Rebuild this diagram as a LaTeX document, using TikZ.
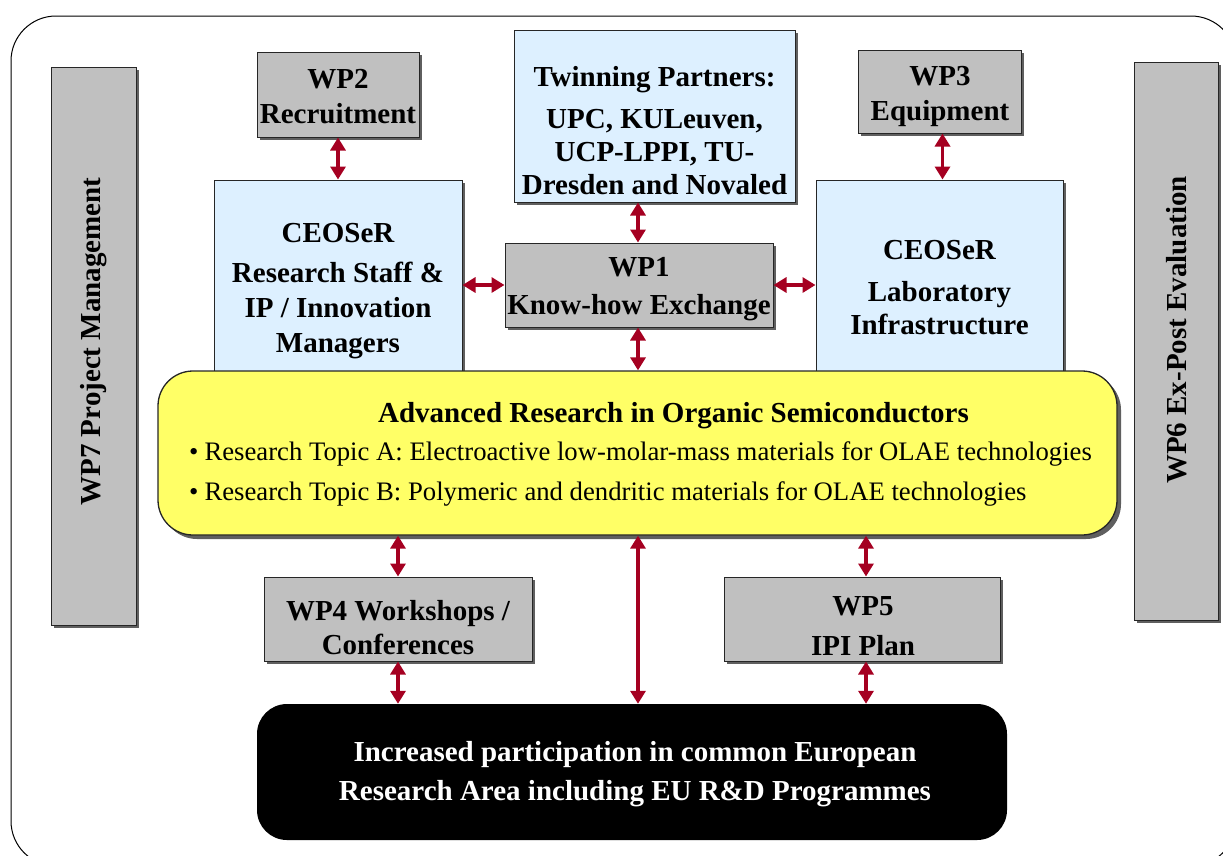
\documentclass[tikz,border=0pt]{standalone}
\usepackage{fontspec}
\setmainfont{Liberation Serif}
\usetikzlibrary{arrows.meta,shadows,calc}
\definecolor{gboxc}{RGB}{192,192,192}
\definecolor{lbluec}{RGB}{221,240,255}
\definecolor{yelc}{RGB}{255,255,102}
\definecolor{arrc}{RGB}{165,0,33}
\definecolor{shadc}{RGB}{95,95,95}
\begin{document}
\begin{tikzpicture}[x=1pt,y=-1pt,
  shbox/.style={draw=black!85, line width=1pt, inner sep=0pt,
    drop shadow={shadow xshift=3pt, shadow yshift=-3pt, fill=shadc, opacity=1}},
  graybox/.style={shbox, fill=gboxc},
  bluebox/.style={shbox, fill=lbluec},
  btxt/.style={align=center, inner sep=0pt, font=\bfseries\fontsize{29}{35}\selectfont},
  rtxt/.style={inner sep=0pt, font=\fontsize{26.7}{32}\selectfont},
  biarrow/.style={draw=arrc, line width=3.5pt,
    {Triangle[width=15pt,length=13pt]}-{Triangle[width=15pt,length=13pt]}}
]
\useasboundingbox (0,0) rectangle (1223,855);
\begin{scope}
  \clip (0,0) rectangle (1223,855);
  \draw[line width=1pt, rounded corners=45] (11,16) rectangle (1236,866);
\end{scope}

% side boxes
\node[graybox, minimum width=85, minimum height=558] (wp7) at (93.5,346) {};
\node[btxt, rotate=90] (wp7t) at (94,341.5) {WP7 Project Management};
\node[graybox, minimum width=84, minimum height=558] (wp6) at (1176,341) {};
\node[btxt, rotate=90] (wp6t) at (1177,330) {WP6 Ex-Post Evaluation};

% top row
\node[graybox, minimum width=162, minimum height=85] (wp2) at (338,94.5) {};
\node[btxt] (wp2t) at (338,97) {WP2\\Recruitment};
\node[bluebox, minimum width=281, minimum height=172] (twin) at (654.5,116) {};
\node[btxt, font=\bfseries\fontsize{29}{33}\selectfont] (twint) at (654.5,131) {Twinning Partners:\\[9pt]UPC, KULeuven,\\UCP-LPPI, TU-\\Dresden and Novaled};
\node[graybox, minimum width=163, minimum height=83] (wp3) at (939.5,91.5) {};
\node[btxt] (wp3t) at (940,96) {WP3\\Equipment};

% CEOSeR boxes
\node[bluebox, minimum width=248, minimum height=205] (ceoL) at (338,282.5) {};
\node[btxt] (ceoLt) at (338,291) {CEOSeR\\[5pt]Research Staff \&\\IP / Innovation\\Managers};
\node[bluebox, minimum width=247, minimum height=205] (ceoR) at (939.5,282.5) {};
\node[btxt, font=\bfseries\fontsize{29}{33}\selectfont] (ceoRt) at (939.5,287.5) {CEOSeR\\[9pt]Laboratory\\Infrastructure};

% WP1
\node[graybox, minimum width=268, minimum height=84] (wp1) at (639,285) {};
\node[btxt, font=\bfseries\fontsize{29}{38}\selectfont] (wp1t) at (639,289) {WP1\\Know-how Exchange};

% yellow box
\node[shbox, fill=yelc, rounded corners=35, line width=1.3pt, minimum width=959, minimum height=164,
  drop shadow={shadow xshift=4pt, shadow yshift=-4pt, fill=shadc, opacity=1}] (yel) at (637.5,453) {};
\node[btxt] (yelt) at (673.5,416) {Advanced Research in Organic Semiconductors};
\node[rtxt, anchor=west] (ta) at (189,454) {\textbullet\hspace{6pt}Research Topic A: Electroactive low-molar-mass materials for OLAE technologies};
\node[rtxt, anchor=west] (tb) at (189,494) {\textbullet\hspace{6pt}Research Topic B: Polymeric and dendritic materials for OLAE technologies};

% WP4, WP5
\node[graybox, minimum width=268, minimum height=84] (wp4) at (398,619) {};
\node[btxt, font=\bfseries\fontsize{29}{34}\selectfont] (wp4t) at (398,627.5) {WP4 Workshops /\\Conferences};
\node[graybox, minimum width=276, minimum height=84] (wp5) at (862,619) {};
\node[btxt, font=\bfseries\fontsize{29}{40}\selectfont] (wp5t) at (863,626) {WP5\\IPI Plan};

% black box
\node[fill=black, rounded corners=30, minimum width=750, minimum height=136, inner sep=0pt] (blk) at (632,772) {};
\node[btxt, text=white, font=\bfseries\fontsize{29}{39}\selectfont] (blkt) at (635,774.5) {Increased participation in common European\\Research Area including EU R\&D Programmes};

% arrows
\draw[biarrow] (wp2.south) -- (wp2.south |- ceoL.north);
\draw[biarrow] (wp1.north -| 638,0) -- (twin.south -| 638,0);
\draw[biarrow] ($(wp3.south)+(3,0)$) -- ($(wp3.south |- ceoR.north)+(3,0)$);
\draw[biarrow] (wp1.west) -- (wp1.west -| ceoL.east);
\draw[biarrow] (wp1.east) -- (wp1.east -| ceoR.west);
\draw[biarrow] (wp1.south -| 638,0) -- (yel.north -| 638,0);
\draw[biarrow] (yel.south -| wp4.north) -- (wp4.north);
\draw[biarrow] (yel.south -| 866,0) -- (wp5.north -| 866,0);
\draw[biarrow] (yel.south -| 638,0) -- (blk.north -| 638,0);
\draw[biarrow] (wp4.south) -- (wp4.south |- blk.north);
\draw[biarrow] (wp5.south -| 866,0) -- (blk.north -| 866,0);
\end{tikzpicture}
\end{document}
